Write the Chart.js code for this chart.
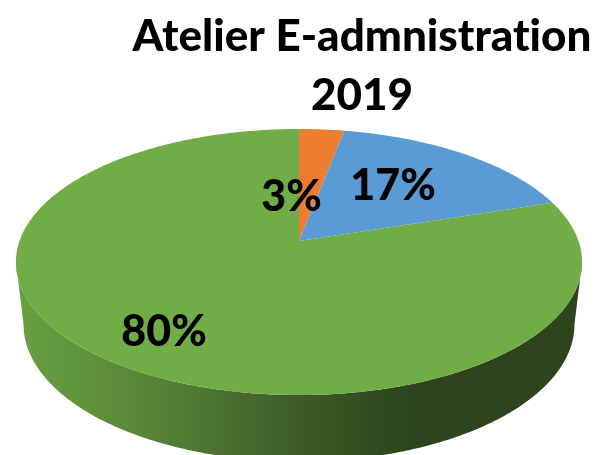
<!DOCTYPE html>
<html>
<head>
<meta charset="utf-8">
<style>html,body{margin:0;padding:0;background:#fff}#wrap{width:598px;height:455px;position:relative;overflow:hidden}</style>
<script src="https://cdn.jsdelivr.net/npm/chart.js@4"></script>
</head>
<body>
<div id="wrap"><canvas id="c" width="598" height="455"></canvas></div>
<script>
const titleLines = ["Atelier E-admnistration", "2019"];
const categories = ["Orange", "Bleu", "Vert"];
const values = [3, 17, 80];
const colors = ["#ed7d31", "#5b9bd5", "#70ad47"];

// Projection of the flat disc onto the tilted view
const view = { cx: 299, cy: 241, a: 279.5, b: 129.7, p: 0.158 };
const base = { cx: 299, cy: 302.8, a: 272, b: 133.6, p: 0.158 };
const labelCentres = [[291.5, 197.5], [393, 186.5], [164, 332.5]];
const FONT = "Lato, Carlito, Calibri, sans-serif";

function proj(g, th) {
  const u = Math.sin(th), v = Math.cos(th), d = 1 + g.p * v;
  return [g.cx + g.a * u / d, g.cy - g.b * v / d];
}
function trace(ctx, g, from, to) {
  const n = Math.max(2, Math.ceil(Math.abs(to - from) / 0.01));
  for (let i = 0; i <= n; i++) {
    const t = from + (to - from) * i / n, q = proj(g, t);
    ctx.lineTo(q[0], q[1]);
  }
}
const pie3d = {
  id: "pie3d",
  beforeDraw(chart) {
    chart.ctx.letterSpacing = "0.01px";
  },
  beforeDatasetDraw(chart, args) {
    const ctx = chart.ctx, arcs = chart.getDatasetMeta(args.index).data;
    const frontA = Math.acos(-view.p), frontB = 2 * Math.PI - frontA;
    const grad = ctx.createLinearGradient(16, 0, 582, 0);
    [[0, "#68a042"], [0.2, "#5a8a38"], [0.33, "#4e7631"], [0.5, "#3d5b27"], [0.66, "#2f481e"], [0.72, "#2d441c"], [1, "#2d441c"]]
      .forEach(s => grad.addColorStop(s[0], s[1]));
    ctx.save();
    arcs.forEach(el => {
      const lo = Math.max(el.startAngle + Math.PI / 2, frontA), hi = Math.min(el.endAngle + Math.PI / 2, frontB);
      if (hi <= lo) return;
      ctx.beginPath();
      trace(ctx, view, lo, hi);
      trace(ctx, base, hi, lo);
      ctx.closePath();
      ctx.fillStyle = grad;
      ctx.fill();
    });
    arcs.forEach((el, i) => {
      ctx.beginPath();
      ctx.moveTo(view.cx, view.cy);
      trace(ctx, view, el.startAngle + Math.PI / 2, el.endAngle + Math.PI / 2);
      ctx.closePath();
      ctx.fillStyle = colors[i];
      ctx.fill();
    });
    ctx.restore();
    return false;
  },
  afterDatasetsDraw(chart) {
    const ctx = chart.ctx;
    ctx.save();
    ctx.font = "900 43px " + FONT;
    ctx.fillStyle = "#000";
    ctx.textAlign = "center";
    ctx.textBaseline = "middle";
    values.forEach((v, i) => ctx.fillText(v + "%", labelCentres[i][0], labelCentres[i][1]));
    ctx.restore();
  }
};
new Chart(document.getElementById("c"), {
  type: "pie",
  data: { labels: categories, datasets: [{ data: values, backgroundColor: colors, borderWidth: 0 }] },
  options: {
    responsive: false,
    animation: false,
    layout: { padding: { left: 126, top: 0 } },
    plugins: {
      legend: { display: false },
      tooltip: { enabled: false },
      title: {
        display: true,
        text: titleLines,
        color: "#000",
        font: { family: FONT, weight: "900", size: 44, lineHeight: 1.34 },
        padding: { top: 7, bottom: 0 }
      }
    }
  },
  plugins: [pie3d]
});
</script>
</body>
</html>
